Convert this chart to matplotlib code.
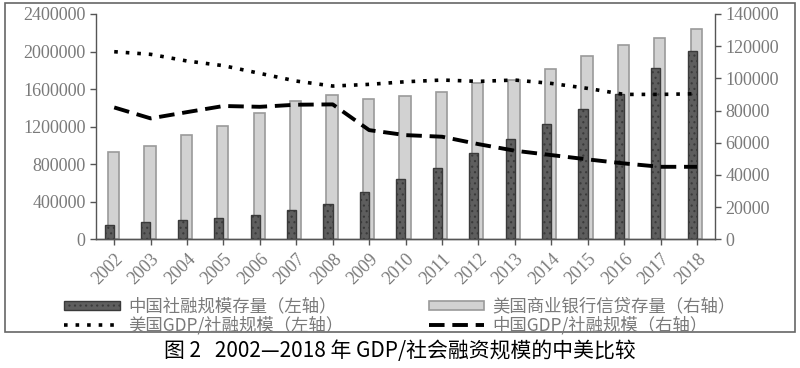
import numpy as np
import matplotlib
matplotlib.use("Agg")
import matplotlib.pyplot as plt
from matplotlib.patches import Rectangle

plt.rcParams['font.family'] = ['Noto Sans CJK SC', 'DejaVu Sans']
plt.rcParams['hatch.color'] = '#2a2a2a'
plt.rcParams['hatch.linewidth'] = 0.8

# data
years = [str(y) for y in range(2002, 2019)]
china_stock = [149000, 178000, 203000, 224000, 263000, 316000, 380000, 508000, 642000,
               764000, 914000, 1070000, 1227000, 1383000, 1547000, 1824000, 2009000]
us_credit = [54300, 58100, 64500, 70300, 78400, 86100, 89600, 87100, 89200,
             91500, 96900, 98900, 105800, 113900, 120900, 125100, 130900]
us_ratio = [1998000, 1970000, 1899000, 1849000, 1767000, 1685000, 1632000, 1650000, 1678000,
            1696000, 1682000, 1696000, 1660000, 1607000, 1543000, 1543000, 1550000]
cn_ratio = [81900, 75100, 79000, 82800, 82300, 83600, 83800, 67800, 64700,
            63700, 59100, 55000, 52300, 49600, 47100, 45000, 45000]

labels = ['中国社融规模存量（左轴）', '美国商业银行信贷存量（右轴）',
          '美国GDP/社融规模（左轴）', '中国GDP/社融规模（右轴）']
caption = '图 2   2002—2018 年 GDP/社会融资规模的中美比较'

grey = '#7a7a7a'
x = np.arange(len(years))

fig = plt.figure(figsize=(8, 3.68), dpi=100)
ax = fig.add_axes([0.12, 0.35, 0.774, 0.612])
ax_r = ax.twinx()
ax_top = ax.twinx()

ax.set_zorder(2)
ax_top.set_zorder(3)
ax_r.set_zorder(1)
ax.patch.set_visible(False)
ax_top.patch.set_visible(False)

# light bars on the right axis
b2 = ax_r.bar(x - 0.02, us_credit, width=0.31, color='#d2d2d2', edgecolor='#9a9a9a', linewidth=1.2)
# dark bars on the left axis
b1 = ax.bar(x - 0.13, china_stock, width=0.25, color='#5e5e5e', edgecolor='#3a3a3a',
            linewidth=1.0, hatch='...')
l1, = ax.plot(x, us_ratio, color='black', linestyle=(0, (1, 2.2)), linewidth=2.6)
l2, = ax_top.plot(x, cn_ratio, color='black', linestyle=(0, (4, 2)), linewidth=2.8)

for a in (ax, ax_r, ax_top):
    a.set_xlim(-0.5, len(years) - 0.5)
ax.set_ylim(0, 2400000)
ax_r.set_ylim(0, 140000)
ax_top.set_ylim(0, 140000)
ax_top.axis('off')

ax.set_yticks(np.arange(0, 2400001, 400000))
ax_r.set_yticks(np.arange(0, 140001, 20000))
ax.ticklabel_format(axis='y', style='plain', useOffset=False)
ax_r.ticklabel_format(axis='y', style='plain', useOffset=False)
ax.set_xticks(x)
ax.set_xticklabels(years, rotation=45, ha='right', rotation_mode='anchor')

for a in (ax, ax_r):
    for s in a.spines.values():
        s.set_color('#555555')
        s.set_linewidth(1.0)
    a.spines['top'].set_visible(False)
    a.tick_params(colors='#555555', labelcolor=grey, length=4, width=1.0,
                  labelfontfamily='Liberation Serif', labelsize=13)
ax.spines['right'].set_visible(False)
ax_r.spines['left'].set_visible(False)
ax.tick_params(axis='x', length=4, pad=4)

leg = fig.legend([b1, l1, b2, l2], [labels[0], labels[2], labels[1], labels[3]],
                 ncol=2, loc='center', bbox_to_anchor=(0.5, 0.142), frameon=False,
                 handlelength=3.2, handleheight=0.45, columnspacing=4.9,
                 labelspacing=0.0, handletextpad=0.5, fontsize=12.5, borderpad=0.2)
for t in leg.get_texts():
    t.set_color(grey)

# outer frame round the chart
fig.patches.append(Rectangle((0.006, 0.098), 0.988, 0.894, transform=fig.transFigure,
                             fill=False, edgecolor='#666666', linewidth=1.2))

fig.text(0.5, 0.047, caption, ha='center', va='center', fontsize=15, color='black')

fig.savefig('out.png', dpi=100)
